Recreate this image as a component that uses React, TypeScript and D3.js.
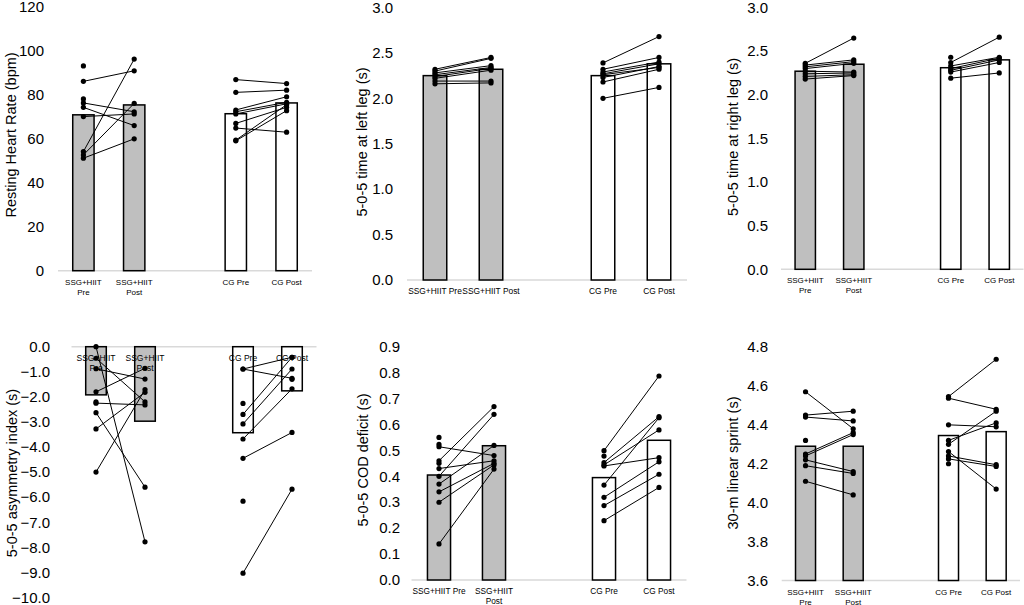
import React from 'react';
import * as d3 from 'd3';

// categories (middle slot is the empty gap between groups)
const categories = ['SSG+HIIT Pre', 'SSG+HIIT Post', 'gap', 'CG Pre', 'CG Post'];

// Resting heart rate (bpm)
const hrSsgPre = [93.0, 86.0, 78.0, 76.2, 74.2, 70.0, 54.1, 52.6, 51.1];
const hrSsgPost = [null, 90.8, null, 72.2, 65.9, 71.2, 96.1, 76.0, 59.9];
const hrCgPre = [86.8, 81.0, 73.0, 72.2, 71.2, 66.9, 64.8, 59.3, 59.0];
const hrCgPost = [85.0, 82.0, 79.0, 76.5, 75.8, 74.2, 62.9, 75.4, 72.7];
const hrMeans = [70.8, 75.3, 71.3, 76.2];

// 5-0-5 left leg (s)
const llSsgPre = [2.32, 2.30, 2.28, 2.26, 2.24, 2.22, 2.19, 2.16];
const llSsgPost = [2.45, 2.44, 2.36, 2.34, 2.33, 2.31, 2.19, 2.17];
const llCgPre = [2.39, 2.32, 2.29, 2.27, 2.23, 2.18, 2.00, 2.26];
const llCgPost = [2.68, 2.45, 2.40, 2.38, 2.35, 2.32, 2.12, 2.34];
const llMeans = [2.25, 2.32, 2.25, 2.38];

// 5-0-5 right leg (s)
const rlSsgPre = [2.36, 2.34, 2.32, 2.30, 2.27, 2.24, 2.21, 2.18];
const rlSsgPost = [2.65, 2.40, 2.38, 2.36, 2.26, 2.25, 2.23, 2.22];
const rlCgPre = [2.37, 2.43, 2.33, 2.30, 2.28, 2.26, 2.19];
const rlCgPost = [2.66, null, 2.43, 2.42, 2.40, 2.37, 2.25];
const rlMeans = [2.27, 2.35, 2.31, 2.40];

// 5-0-5 asymmetry index
const asSsgPre = [0.0, -0.46, -0.88, -1.80, -2.25, -2.63, -3.28, -5.0, -2.20];
const asSsgPost = [-7.78, -2.20, -1.29, -0.86, -2.32, -5.60, -1.82, -1.71, null];
const asCgPre = [-0.89, -0.89, -2.70, -3.08, -3.68, -4.45, -9.03, -2.26, -6.16, null];
const asCgPost = [-0.42, -1.26, -0.42, -0.89, -1.68, -3.42, -5.68, null, null, -1.30];
const asMeans = [-1.92, -2.97, -3.43, -1.76];

// 5-0-5 COD deficit (s)
const codSsgPre = [0.514, 0.46, 0.43, 0.40, 0.37, 0.34, 0.30, 0.139, 0.55, 0.523, 0.45];
const codSsgPost = [0.48, 0.669, 0.46, 0.639, 0.519, 0.45, 0.444, 0.428, null, null, null];
const codCgPre = [0.499, 0.453, 0.444, 0.44, 0.366, 0.319, 0.287, 0.229, 0.478];
const codCgPost = [0.787, 0.63, 0.579, 0.472, 0.626, 0.456, 0.408, 0.357, null];
const codMeans = [0.405, 0.518, 0.395, 0.539];

// 30-m linear sprint (s)
const spSsgPre = [4.57, 4.45, 4.44, 4.25, 4.24, 4.22, 4.19, 4.11, 4.32];
const spSsgPost = [4.38, 4.47, 4.42, 4.36, 4.35, 4.16, 4.15, 4.04, null];
const spCgPre = [4.545, 4.537, 4.40, 4.30, 4.32, 4.263, 4.24, 4.225, 4.20];
const spCgPost = [4.737, 4.48, 4.39, 4.47, 4.41, 4.07, 4.195, 4.186, null];
const spMeans = [4.29, 4.29, 4.345, 4.365];

const FONT = '"Liberation Sans", Arial, sans-serif';

type Val = number | null;

interface PanelProps {
  title: string;
  x0: number; x1: number;
  yMin: number; yMax: number; yBottom: number; yTop: number;
  step: number; fmt: string; base: number;
  tickRight: number; labelX: number; labelY: number;
  catLines: string[][]; catSize: number;
  ssgPre: Val[]; ssgPost: Val[]; cgPre: Val[]; cgPost: Val[]; means: number[];
}

const Panel: React.FC<PanelProps> = (p) => {
  const x = d3.scaleBand().domain(categories).range([p.x0, p.x1]).padding(0);
  const y = d3.scaleLinear().domain([p.yMin, p.yMax]).range([p.yBottom, p.yTop]);
  const bw = x.bandwidth() * 0.42;
  const cx = (c: string) => (x(c) as number) + x.bandwidth() / 2;
  const barCats = ['SSG+HIIT Pre', 'SSG+HIIT Post', 'CG Pre', 'CG Post'];
  const fills = ['#bfbfbf', '#bfbfbf', '#ffffff', '#ffffff'];
  const ticks = d3.range(Math.round((p.yMax - p.yMin) / p.step) + 1).map(i => p.yMin + i * p.step);
  const f = d3.format(p.fmt);
  const yb = y(p.base);
  const pairs: [string, string, Val[], Val[]][] = [
    ['SSG+HIIT Pre', 'SSG+HIIT Post', p.ssgPre, p.ssgPost],
    ['CG Pre', 'CG Post', p.cgPre, p.cgPost],
  ];

  return (
    <g>
      <line x1={p.x0} x2={p.x1} y1={yb} y2={yb} stroke="#d9d9d9" strokeWidth={1.5} />
      {p.means.map((m, i) => (
        <rect key={i} x={cx(barCats[i]) - bw / 2} y={Math.min(y(m), yb)} width={bw}
          height={Math.abs(y(m) - yb)} fill={fills[i]} stroke="#000" strokeWidth={1.5} />
      ))}
      {ticks.map((t, i) => (
        <text key={i} x={p.tickRight} y={y(t)} dy="0.35em" textAnchor="end" fontSize={15} fontFamily={FONT}>{f(t)}</text>
      ))}
      {barCats.map((c, i) => (
        <text key={i} textAnchor="middle" fontSize={p.catSize} fontFamily={FONT}>
          {p.catLines[i].map((ln, j) => (
            <tspan key={j} x={cx(c)} y={yb + 14 + j * 10}>{ln}</tspan>
          ))}
        </text>
      ))}
      {pairs.map(([a, b, pre, post], k) => (
        <g key={k}>
          {pre.map((v, i) => (v != null && post[i] != null ? (
            <line key={'l' + i} x1={cx(a)} x2={cx(b)} y1={y(v)} y2={y(post[i] as number)} stroke="#000" strokeWidth={1} />
          ) : null))}
          {pre.map((v, i) => (v != null ? <circle key={'a' + i} cx={cx(a)} cy={y(v)} r={2.6} fill="#000" /> : null))}
          {post.map((v, i) => (v != null ? <circle key={'b' + i} cx={cx(b)} cy={y(v)} r={2.6} fill="#000" /> : null))}
        </g>
      ))}
      <text transform={`translate(${p.labelX},${p.labelY}) rotate(-90)`} textAnchor="middle" dy="0.35em"
        fontSize={14.5} fontFamily={FONT}>{p.title}</text>
    </g>
  );
};

const twoLine = [['SSG+HIIT', 'Pre'], ['SSG+HIIT', 'Post'], ['CG Pre'], ['CG Post']];

export default function App() {
  return (
    <svg width={1024} height={605} style={{ position: 'absolute', left: 0, top: 0, background: '#fff' }}>
      <Panel title="Resting Heart Rate (bpm)" x0={58} x1={312} yMin={0} yMax={120} yBottom={270.7} yTop={6.5}
        step={20} fmt="d" base={0} tickRight={44} labelX={11} labelY={135}
        catLines={twoLine} catSize={8}
        ssgPre={hrSsgPre} ssgPost={hrSsgPost} cgPre={hrCgPre} cgPost={hrCgPost} means={hrMeans} />
      <Panel title="5-0-5 time at left leg (s)" x0={407} x1={687} yMin={0} yMax={3} yBottom={280} yTop={7.5}
        step={0.5} fmt=".1f" base={0} tickRight={393} labelX={362} labelY={142}
        catLines={[['SSG+HIIT Pre'], ['SSG+HIIT Post'], ['CG Pre'], ['CG Post']]} catSize={8.4}
        ssgPre={llSsgPre} ssgPost={llSsgPost} cgPre={llCgPre} cgPost={llCgPost} means={llMeans} />
      <Panel title="5-0-5 time at right leg (s)" x0={781} x1={1023.5} yMin={0} yMax={3} yBottom={269.3} yTop={7.5}
        step={0.5} fmt=".1f" base={0} tickRight={768} labelX={733} labelY={137}
        catLines={twoLine} catSize={8}
        ssgPre={rlSsgPre} ssgPost={rlSsgPost} cgPre={rlCgPre} cgPost={rlCgPost} means={rlMeans} />
      <Panel title="5-0-5 asymmetry index (s)" x0={71.5} x1={316.5} yMin={-10} yMax={0} yBottom={597.5} yTop={346.7}
        step={1} fmt=".1f" base={0} tickRight={50} labelX={12} labelY={473}
        catLines={twoLine} catSize={8.5}
        ssgPre={asSsgPre} ssgPost={asSsgPost} cgPre={asCgPre} cgPost={asCgPost} means={asMeans} />
      <Panel title="5-0-5 COD deficit (s)" x0={411.5} x1={686.5} yMin={0} yMax={0.9} yBottom={580} yTop={346.7}
        step={0.1} fmt=".1f" base={0} tickRight={400} labelX={363} labelY={460}
        catLines={[['SSG+HIIT Pre'], ['SSG+HIIT', 'Post'], ['CG Pre'], ['CG Post']]} catSize={8.3}
        ssgPre={codSsgPre} ssgPost={codSsgPost} cgPre={codCgPre} cgPost={codCgPost} means={codMeans} />
      <Panel title="30-m linear sprint (s)" x0={781.7} x1={1020} yMin={3.6} yMax={4.8} yBottom={580.5} yTop={347}
        step={0.2} fmt=".1f" base={3.6} tickRight={768} labelX={733} labelY={463}
        catLines={twoLine} catSize={8}
        ssgPre={spSsgPre} ssgPost={spSsgPost} cgPre={spCgPre} cgPost={spCgPost} means={spMeans} />
    </svg>
  );
}
